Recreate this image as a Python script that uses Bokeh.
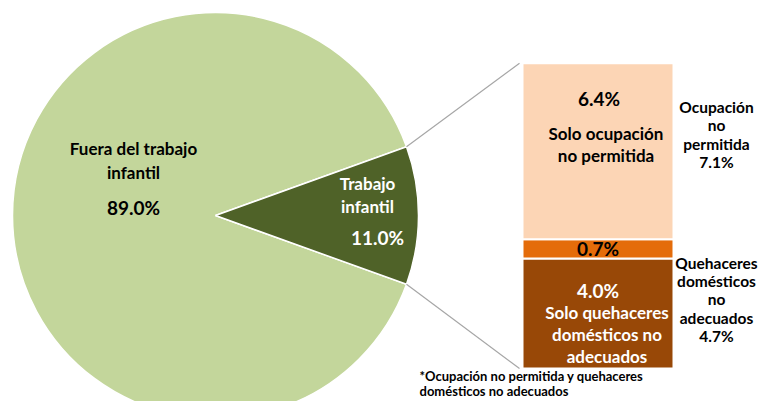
import numpy as np
from bokeh.plotting import figure
from bokeh.models import Range1d
from bokeh.core.properties import value
from bokeh.embed import file_html
from bokeh.resources import INLINE

# ---- data ----
pie_labels = ["Fuera del trabajo\ninfantil", "Trabajo\ninfantil"]
pie_values = [89.0, 11.0]
pie_colors = ["#C3D69B", "#4F6228"]

bar_labels = ["Solo quehaceres\ndomésticos no\nadecuados", "", "Solo ocupación\nno permitida"]
bar_values = [4.0, 0.7, 6.4]
bar_colors = ["#984807", "#E46C0A", "#FCD5B5"]

group_labels = ["Ocupación\nno\npermitida", "Quehaceres\ndomésticos\nno\nadecuados"]
group_values = [7.1, 4.7]
footnote = "*Ocupación no permitida y quehaceres\ndomésticos no adecuados"

# ---- layout ----
FONT = value("Lato")
W, H = 758, 401


def Y(sy):
    return H - sy


p = figure(width=W, height=H, x_range=Range1d(0, W), y_range=Range1d(0, H),
           output_backend="svg", toolbar_location=None, min_border=0)
p.axis.visible = False
p.grid.visible = False
p.outline_line_color = None
p.background_fill_color = "white"

cx, cy, R = 215, Y(215), 203
fr = np.array(pie_values) / sum(pie_values)
half = fr[1] * np.pi
starts = [half, -half]
ends = [2 * np.pi - half, half]
p.wedge(x=cx, y=cy, radius=R, start_angle=starts, end_angle=ends,
        fill_color=pie_colors, line_color="white", line_width=1.5)

# stacked bar
bx0, bx1 = 522, 673
base = Y(368)
scale = 27.5
tops = base + np.cumsum(bar_values) * scale
bottoms = tops - np.array(bar_values) * scale
p.quad(left=bx0, right=bx1, bottom=bottoms, top=tops, fill_color=bar_colors,
       line_color="white", line_width=2)

# connectors
ux, uy = cx + R * np.cos(half), cy + R * np.sin(half)
lx, ly = cx + R * np.cos(-half), cy + R * np.sin(-half)
p.segment(x0=[ux, lx], y0=[uy, ly], x1=[bx0 - 3, bx0 - 3], y1=[tops[-1], bottoms[0]],
          line_color="#A6A6A6", line_width=1.2)


def txt(x, y, s, color="black", size="17px", align="center", lh=1.1):
    p.text(x=[x], y=[y], text=[s], text_font=FONT, text_font_style="bold",
           text_font_size=size, text_color=color, text_align=align,
           text_baseline="middle", text_line_height=lh)


# pie labels
txt(133, Y(160), pie_labels[0], lh=1.15)
txt(133, Y(207), f"{pie_values[0]:.1f}%", size="19px")
txt(367, Y(194.5), pie_labels[1], color="white", lh=1.1)
txt(377, Y(237), f"{pie_values[1]:.1f}%", color="white", size="19px")

# bar labels
mid = (bx0 + bx1) / 2
txt(mid + 1, Y(98), f"{bar_values[2]:.1f}%", size="19px")
txt(mid + 8, Y(144), bar_labels[2], lh=1.05)
txt(mid, (bottoms[1] + tops[1]) / 2, f"{bar_values[1]:.1f}%", size="19px")
txt(mid, Y(290), f"{bar_values[0]:.1f}%", color="white", size="19px")
txt(mid + 9, Y(334), bar_labels[0], color="white", lh=1.07)

# group labels
txt(716, Y(134), group_labels[0] + f"\n{group_values[0]:.1f}%", size="15.5px", lh=1.02)
txt(716, Y(299), group_labels[1] + f"\n{group_values[1]:.1f}%", size="15.5px", lh=1.02)

# footnote
txt(419, Y(383), footnote, size="13px", align="left", lh=0.95)

open("out.html", "w").write(file_html(p, INLINE))
